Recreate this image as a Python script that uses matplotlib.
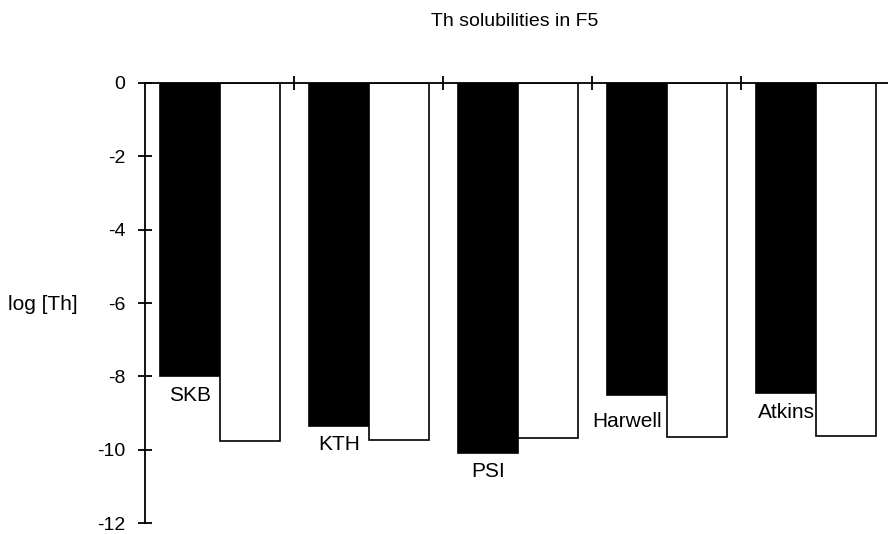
import numpy as np
import matplotlib
matplotlib.use('Agg')
import matplotlib.pyplot as plt

plt.rcParams['font.family'] = ['Liberation Sans', 'DejaVu Sans']

groups = ['SKB', 'KTH', 'PSI', 'Harwell', 'Atkins']
black_vals = [-8.0, -9.35, -10.08, -8.5, -8.45]
white_vals = [-9.75, -9.73, -9.67, -9.65, -9.62]
yticks = [0, -2, -4, -6, -8, -10, -12]

# small nudges for the group labels (Harwell sits a bit lower and left)
label_dx = [0, 0, 0, -0.07, 0]
label_dy = [0.52, 0.52, 0.52, 0.74, 0.55]

fig = plt.figure(figsize=(8.88, 5.34), dpi=100)
ax = fig.add_axes([145/888, 11/534, 743/888, 440/534])

x = np.arange(len(groups))
w = 0.40
ax.bar(x + 0.303, black_vals, width=w, color='black', edgecolor='black', linewidth=1.2)
ax.bar(x + 0.704, white_vals, width=w, color='white', edgecolor='black', linewidth=1.2)

for i, g in enumerate(groups):
    ax.text(x[i] + 0.303 + label_dx[i], black_vals[i] - label_dy[i], g,
            ha='center', va='center', fontsize=15)

ax.set_xlim(0, 743/149)
ax.set_ylim(-12, 0)

ax.spines['right'].set_visible(False)
ax.spines['bottom'].set_visible(False)
ax.spines['left'].set_linewidth(1.3)
ax.spines['top'].set_linewidth(1.3)

ax.set_yticks(yticks)
ax.set_yticklabels([str(t) for t in yticks], fontsize=14)
ax.tick_params(axis='y', direction='inout', length=10, width=1.3, pad=9)
ax.xaxis.tick_top()
ax.set_xticks([1, 2, 3, 4])
ax.set_xticklabels([])
ax.tick_params(axis='x', direction='inout', length=10, width=1.3)

fig.text(515/888, 1 - 22/534, 'Th solubilities in F5', ha='center', va='center', fontsize=14)
fig.text(8/888, 1 - 305/534, 'log [Th]', ha='left', va='center', fontsize=15)

plt.savefig('out.png', dpi=100)
